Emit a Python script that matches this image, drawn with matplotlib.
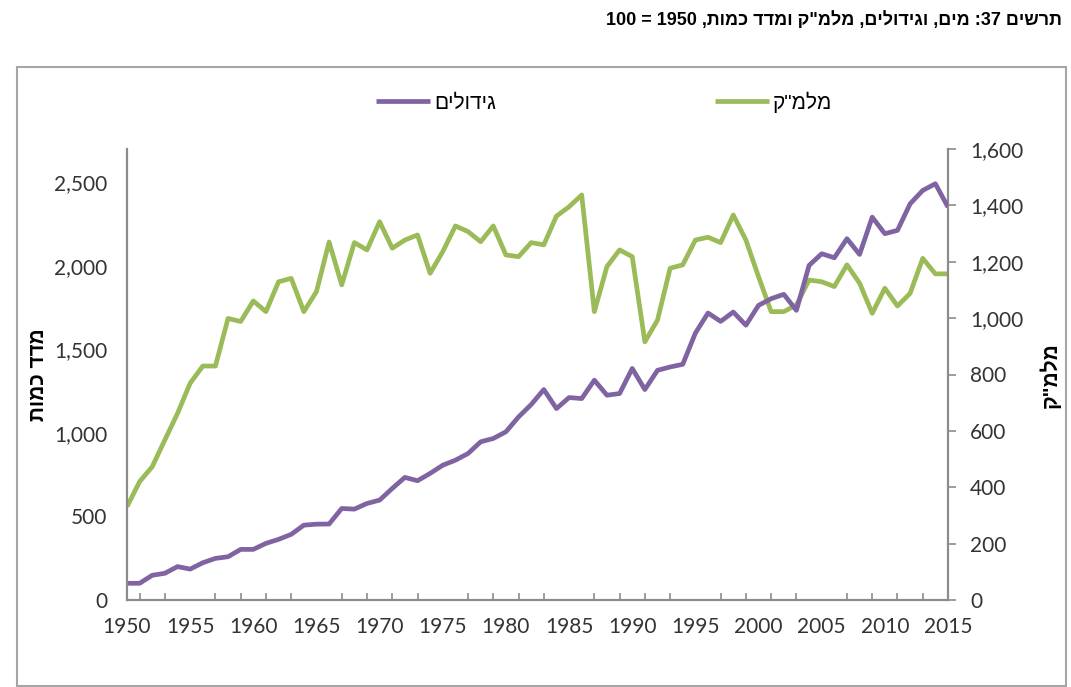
import re
import matplotlib
matplotlib.use("Agg")
import matplotlib.pyplot as plt
from matplotlib.patches import Rectangle
from matplotlib.ticker import FuncFormatter

# data, 1950-2015
years = list(range(1950, 2016))
crops = [100, 100, 148, 160, 200, 185, 223, 249, 259, 303,
         303, 339, 363, 393, 448, 454, 455, 548, 544, 578,
         598, 668, 734, 714, 758, 807, 837, 877, 947, 967,
         1007, 1096, 1170, 1260, 1146, 1212, 1206, 1316, 1226, 1236,
         1386, 1260, 1375, 1395, 1411, 1598, 1718, 1668, 1724, 1645,
         1764, 1804, 1830, 1734, 2003, 2073, 2049, 2163, 2069, 2292,
         2193, 2213, 2372, 2452, 2492, 2352]
water = [331, 420, 473, 568, 662, 769, 830, 830, 999, 988,
         1061, 1023, 1129, 1141, 1023, 1094, 1270, 1118, 1268, 1242,
         1342, 1248, 1277, 1295, 1159, 1236, 1327, 1307, 1271, 1327,
         1224, 1218, 1268, 1260, 1362, 1395, 1437, 1023, 1183, 1242,
         1218, 916, 993, 1177, 1189, 1277, 1287, 1268, 1366, 1277,
         1147, 1023, 1023, 1047, 1135, 1129, 1112, 1189, 1124, 1017,
         1106, 1043, 1088, 1212, 1157, 1157]

title = 'תרשים 37: מים, וגידולים, מלמ"ק ומדד כמות, 1950 = 100'
crops_label = "גידולים"
water_label = 'מלמ"ק'
left_title = "מדד כמות"
right_title = 'מלמ"ק'


def visual(s):
    # matplotlib has no bidi support: flip hebrew, keep digit runs
    r = s[::-1]
    return re.sub(r"[0-9A-Za-z]+", lambda m: m.group(0)[::-1], r)


heb = ["Liberation Sans", "DejaVu Sans"]
heb_narrow = ["Liberation Sans Narrow", "Liberation Sans", "DejaVu Sans"]
num_font = ["Lato", "DejaVu Sans"]

purple = "#8064A2"
green = "#9BBB59"
grey = "#8C8C8C"
text_col = "#333333"

fig = plt.figure(figsize=(10.71, 6.87), dpi=100)

# outer frame of the chart
fig.patches.append(Rectangle((17 / 1071, 1 / 687), 1049 / 1071, 619 / 687,
                             transform=fig.transFigure, fill=False,
                             edgecolor="#A6A6A6", linewidth=1.5))

ax = fig.add_axes([127 / 1071, 87 / 687, 821 / 1071, 451 / 687])
ax2 = ax.twinx()

l1, = ax.plot(years, crops, color=purple, linewidth=3.4, solid_capstyle="butt")
l2, = ax2.plot(years, water, color=green, linewidth=3.4, solid_capstyle="butt")
ax2.set_zorder(ax.get_zorder() - 1)
ax.patch.set_visible(False)

ax.set_xlim(1950, 2015)
ax.set_ylim(0, 2700)
ax2.set_ylim(0, 1600)

thousands = FuncFormatter(lambda v, p: f"{int(v):,}")
ax.set_yticks(range(0, 2501, 500))
ax.yaxis.set_major_formatter(thousands)
ax2.set_yticks(range(0, 1601, 200))
ax2.yaxis.set_major_formatter(thousands)
ax.set_xticks(range(1950, 2016, 5))
ax.set_xticks(range(1951, 2016, 2), minor=True)

for a in (ax, ax2):
    a.spines["top"].set_visible(False)
    for side in ("left", "right", "bottom"):
        a.spines[side].set_color(grey)
        a.spines[side].set_linewidth(1.6)
ax.spines["right"].set_visible(False)
ax2.spines["left"].set_visible(False)
ax2.spines["bottom"].set_visible(False)

ax.tick_params(axis="x", which="major", length=0, pad=12)
ax.tick_params(axis="x", which="minor", length=5, direction="in", color=grey, width=1.2)
ax.tick_params(axis="y", length=0, pad=14)
ax2.tick_params(axis="y", length=6, direction="out", color=grey, width=1.2, pad=10)

for lab in ax.get_xticklabels() + ax.get_yticklabels() + ax2.get_yticklabels():
    lab.set_family(num_font)
    lab.set_fontsize(15)
    lab.set_color(text_col)

fig.text(1062 / 1071, 1 - 20 / 687, visual(title), ha="right", va="center",
         family=heb_narrow, fontsize=13, fontweight="bold", color="black")

fig.text(38 / 1071, 1 - 375 / 687, visual(left_title), rotation=90,
         ha="center", va="center", family=heb, fontsize=15, fontweight="bold")
fig.text(1050 / 1071, 1 - 375 / 687, visual(right_title), rotation=90,
         ha="center", va="center", family=heb, fontsize=15, fontweight="bold")

fig.legend([l1, l2], [visual(crops_label), visual(water_label)],
           loc="center", bbox_to_anchor=(604 / 1071, 1 - 102 / 687),
           ncol=2, frameon=False, handlelength=2.6, handletextpad=0.2,
           columnspacing=10.5, prop={"family": heb, "size": 15})

fig.savefig("out.png", dpi=100)
